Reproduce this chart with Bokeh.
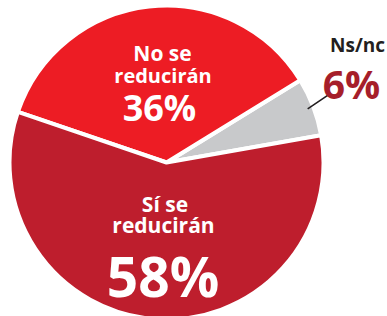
import math
from bokeh.plotting import figure
from bokeh.models import Range1d, ColumnDataSource
from bokeh.core.properties import value
from bokeh.embed import file_html
from bokeh.resources import INLINE

# ---- data ----
categories = ["Ns/nc", "No se reducirán", "Sí se reducirán"]
shares = [6, 36, 58]
colors = ["#C8C9CB", "#ED1C24", "#BE1E2D"]
start_deg = 10.0

# ---- geometry (pixel-like data units) ----
W, H = 387, 316
cx, cy = 166, 316 - 162
R = 157

angles = []
a = math.radians(start_deg)
for s in shares:
    b = a + 2 * math.pi * s / 100.0
    angles.append((a, b))
    a = b

src = ColumnDataSource(dict(
    start=[p[0] for p in angles],
    end=[p[1] for p in angles],
    color=colors,
    x=[cx] * 3, y=[cy] * 3,
))

p = figure(width=W, height=H, output_backend="svg", toolbar_location=None,
           x_range=Range1d(0, W), y_range=Range1d(0, H),
           min_border=0, outline_line_color=None)
p.axis.visible = False
p.grid.visible = False
p.background_fill_color = "white"

p.wedge(x="x", y="y", radius=R, radius_units="data",
        start_angle="start", end_angle="end", fill_color="color",
        line_color="white", line_width=4, source=src)

# leader line from the Ns/nc slice
mid = (angles[0][0] + angles[0][1]) / 2
r0 = R - 6
x0 = cx + r0 * math.cos(mid)
y0 = cy + r0 * math.sin(mid)
p.line([x0, x0 + 20, x0 + 28], [y0, y0 + 13.5, y0 + 13.5], line_color="#231F20", line_width=1.6)

font = value("Open Sans")

def label(x, y, txt, size, color):
    p.text(x=[x], y=[y], text=[txt], text_font=font, text_font_style="bold",
           text_font_size=f"{size}px", text_color=color, text_align="center",
           text_baseline="alphabetic")

def py(y):
    return 316 - y

label(162, py(52.7), "No se", 21, "white")
label(162.5, py(75), "reducirán", 20, "white")
label(159, py(107.3), "36%", 36, "white")

label(164.5, py(203.3), "Sí se", 21, "white")
label(163, py(224.3), "reducirán", 21, "white")
label(162.5, py(275), "58%", 55, "white")

label(357, py(44.3), "Ns/nc", 19, "#231F20")
label(351, py(83.3), "6%", 39, "#A61E2A")

open("out.html", "w").write(file_html(p, INLINE))
